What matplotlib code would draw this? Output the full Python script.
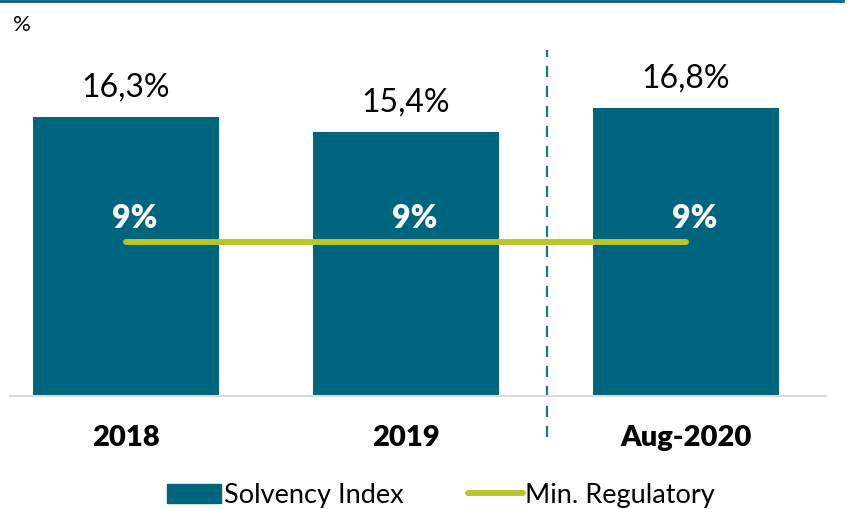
import matplotlib
matplotlib.use("Agg")
import matplotlib.pyplot as plt
from matplotlib.patches import Patch
from matplotlib.lines import Line2D

categories = ["2018", "2019", "Aug-2020"]
solvency = [16.3, 15.4, 16.8]
min_reg = [9, 9, 9]
solvency_labels = ["16,3%", "15,4%", "16,8%"]
reg_labels = ["9%", "9%", "9%"]

BAR = "#00657f"
LINE = "#b7c72b"
plt.rcParams['font.family'] = ['Lato', 'DejaVu Sans']

fig = plt.figure(figsize=(8.48, 5.09), dpi=100)
ax = fig.add_axes([10/848, 113/509, (826-10)/848, (396-40)/509])
x = list(range(len(categories)))
ax.bar(x, solvency, width=0.664, color=BAR, zorder=2)
ax.plot(x, min_reg, color=LINE, lw=4.3, solid_capstyle='round', zorder=3)

ax.set_xlim(-0.414, 2.5)
ax.set_ylim(0, 20.8)
for s in ["top", "right", "left"]:
    ax.spines[s].set_visible(False)
ax.spines["bottom"].set_color("#d9d9d9")
ax.spines["bottom"].set_linewidth(1.5)
ax.set_yticks([])
ax.set_xticks(x)
ax.set_xticklabels(categories, fontsize=21, fontweight='heavy')
ax.tick_params(axis='x', length=0, pad=21)

for xi, v, lab in zip(x, solvency, solvency_labels):
    ax.text(xi, v + 0.85, lab, ha='center', va='bottom', fontsize=23, color='black')
for xi, v, lab in zip(x, min_reg, reg_labels):
    ax.text(xi + 0.03, v + 0.55, lab, ha='center', va='bottom', fontsize=23,
            fontweight='heavy', color='white', zorder=4)

ax.plot([1.504, 1.504], [-2.4, 20.2], color="#1a7591", lw=1.6,
        ls=(0, (5, 4)), clip_on=False, zorder=1)

fig.text(13/848, 1 - 25/509, "%", fontsize=16, va='center', ha='left')
fig.add_artist(Line2D([0, 843/848], [1 - 1/509, 1 - 1/509], color=BAR, lw=2,
                      transform=fig.transFigure))

handles = [Patch(color=BAR, label="Solvency Index"),
           Line2D([0], [0], color=LINE, lw=4.3, solid_capstyle='round', label="Min. Regulatory")]
fig.legend(handles=handles, loc='center', bbox_to_anchor=(441/848, 14/509), ncol=2,
           frameon=False, fontsize=19.5, handlelength=2.0, handletextpad=0.1,
           columnspacing=2.4, borderpad=0)

fig.savefig("out.png", dpi=100)
